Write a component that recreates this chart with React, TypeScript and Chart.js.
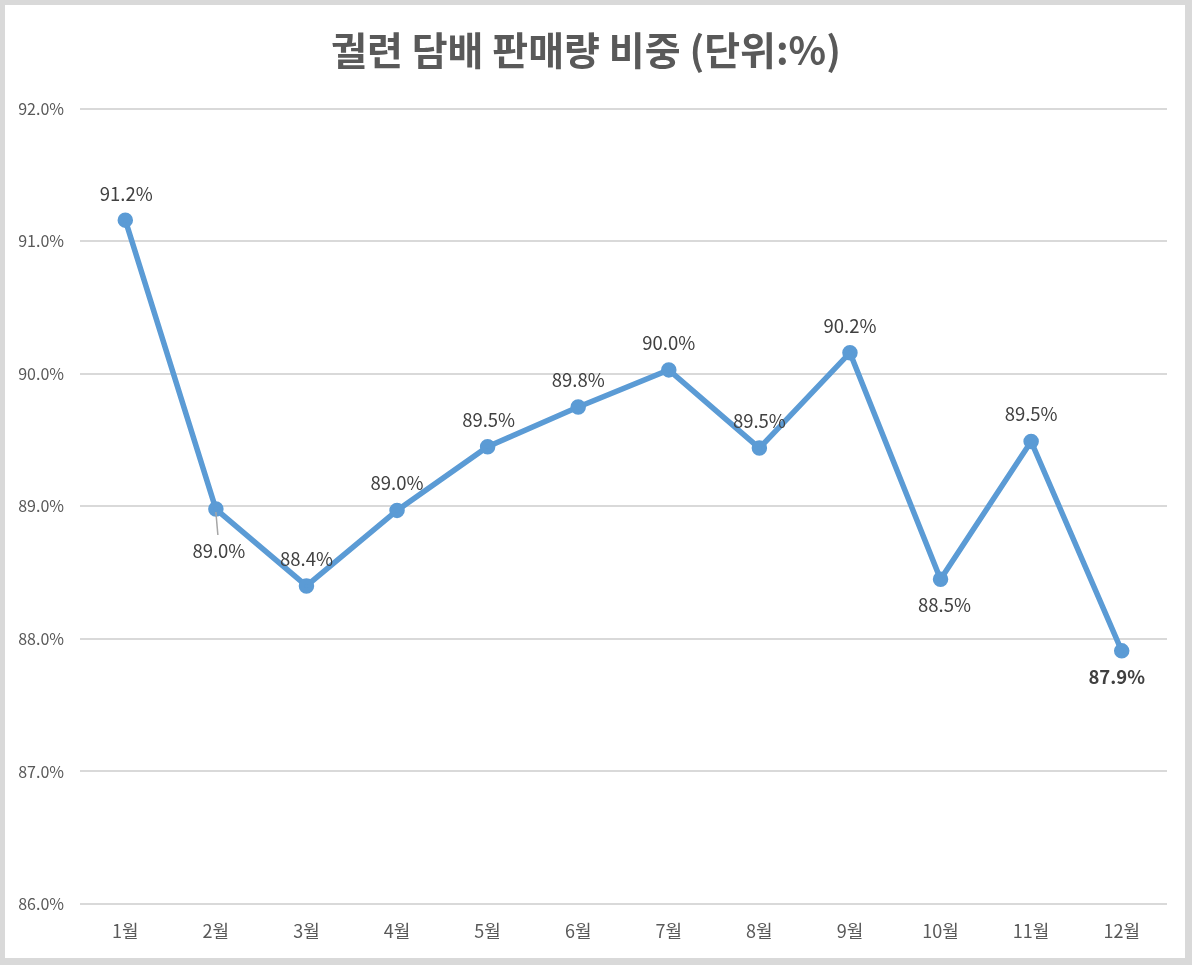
import { useEffect, useRef } from 'react';
import { Chart, registerables } from 'chart.js';

Chart.register(...registerables);

const months = ['1월', '2월', '3월', '4월', '5월', '6월', '7월', '8월', '9월', '10월', '11월', '12월'];
const shares = [91.16, 88.98, 88.4, 88.97, 89.45, 89.75, 90.03, 89.44, 90.16, 88.45, 89.49, 87.91];
const shareLabels = ['91.2%', '89.0%', '88.4%', '89.0%', '89.5%', '89.8%', '90.0%', '89.5%', '90.2%', '88.5%', '89.5%', '87.9%'];
const yTicks = [86, 87, 88, 89, 90, 91, 92];

// where each data label sits relative to its point: [dx, dy, bold, leader]
const labelPlacement: [number, number, boolean, boolean][] = [
  [1, -26, false, false],
  [3, 42, false, true],
  [0, -27, false, false],
  [0, -27, false, false],
  [1, -27, false, false],
  [0, -27, false, false],
  [0, -27, false, false],
  [0, -27, false, false],
  [0, -27, false, false],
  [4, 26, false, false],
  [0, -27, false, false],
  [-5, 26, true, false],
];

const FONT = '"Noto Sans CJK KR", "Noto Sans", sans-serif';

const dataLabels = {
  id: 'dataLabels',
  afterDatasetsDraw(chart: Chart) {
    const ctx = chart.ctx;
    const meta = chart.getDatasetMeta(0);
    ctx.save();
    ctx.textAlign = 'center';
    ctx.textBaseline = 'middle';
    meta.data.forEach((pt, i) => {
      const [dx, dy, bold, leader] = labelPlacement[i];
      const x = pt.x + dx;
      const y = pt.y + dy;
      if (leader) {
        ctx.strokeStyle = '#a6a6a6';
        ctx.lineWidth = 1.5;
        ctx.beginPath();
        ctx.moveTo(pt.x, pt.y + 3);
        ctx.lineTo(x - 1, y - 16);
        ctx.stroke();
      }
      ctx.fillStyle = '#404040';
      ctx.font = `${bold ? 'bold ' : ''}18.5px ${FONT}`;
      ctx.fillText(shareLabels[i], x, y);
    });
    ctx.restore();
  },
};

export default function App() {
  const chartRef = useRef<HTMLCanvasElement>(null);

  useEffect(() => {
    if (!chartRef.current) return;

    const chart = new Chart(chartRef.current, {
      type: 'line',
      data: {
        labels: months,
        datasets: [{
          data: shares,
          borderColor: '#5b9bd5',
          backgroundColor: '#5b9bd5',
          borderWidth: 5.5,
          pointRadius: 5,
          pointHoverRadius: 5,
          tension: 0,
          fill: false,
        }],
      },
      options: {
        animation: false,
        responsive: true,
        maintainAspectRatio: false,
        layout: { padding: { left: 0, right: 18, top: 0, bottom: 0 } },
        plugins: {
          legend: { display: false },
          tooltip: { enabled: false },
          title: {
            display: true,
            text: '궐련 담배 판매량 비중 (단위:%)',
            color: '#595959',
            font: { family: FONT, size: 39, weight: 'bold', lineHeight: 1.2 },
            padding: { top: 22, bottom: 35 },
          },
        },
        scales: {
          x: {
            offset: true,
            grid: { display: false, drawTicks: false },
            border: { display: false },
            ticks: { color: '#595959', font: { family: FONT, size: 18 }, padding: 16 },
            afterFit: (s: any) => { s.height = 54; },
          },
          y: {
            min: 86,
            max: 92,
            afterBuildTicks: (s: any) => { s.ticks = yTicks.map((v) => ({ value: v })); },
            grid: { color: '#d9d9d9', lineWidth: 2, drawTicks: false },
            border: { display: false },
            ticks: {
              color: '#595959',
              font: { family: FONT, size: 16 },
              padding: 16,
              callback: (v: any) => Number(v).toFixed(1) + '%',
            },
            afterFit: (s: any) => { s.width = 75; },
          },
        },
      },
      plugins: [dataLabels],
    });

    return () => chart.destroy();
  }, []);

  return (
    <div
      style={{
        position: 'absolute',
        left: 0,
        top: 0,
        width: 1192,
        height: 965,
        boxSizing: 'border-box',
        borderStyle: 'solid',
        borderColor: '#d9d9d9',
        borderWidth: '5px 7px 7px 5px',
        background: '#fff',
      }}
    >
      <canvas ref={chartRef} />
    </div>
  );
}
